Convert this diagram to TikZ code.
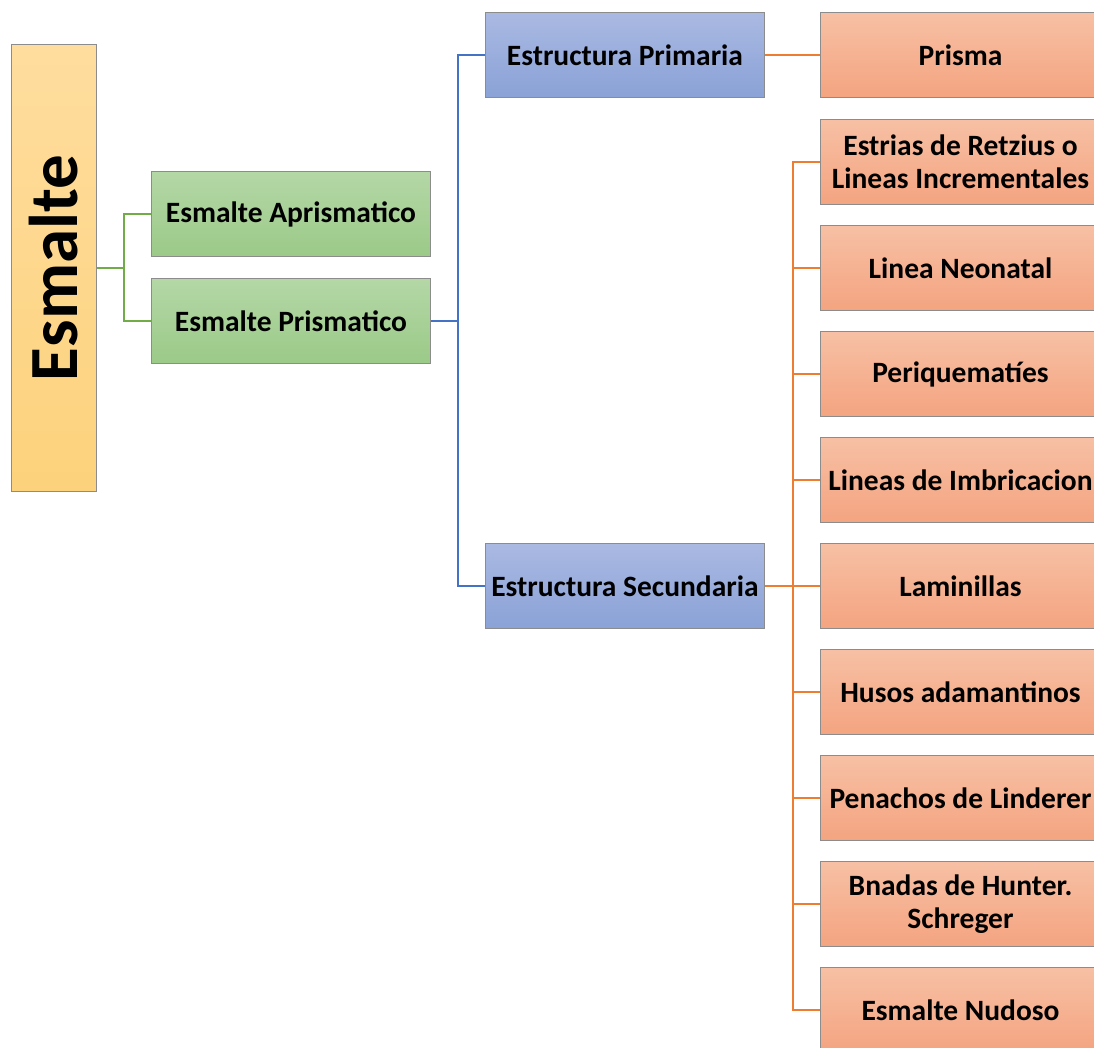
\documentclass[tikz,border=0pt]{standalone}
\usepackage{fontspec}
\setmainfont{Carlito}
\definecolor{yTop}{HTML}{FEDD9E}
\definecolor{yBot}{HTML}{FDD27C}
\definecolor{gTop}{HTML}{B4D7A6}
\definecolor{gBot}{HTML}{9BCA88}
\definecolor{bTop}{HTML}{AAB9E2}
\definecolor{bBot}{HTML}{8AA2D7}
\definecolor{oTop}{HTML}{F7C0A4}
\definecolor{oBot}{HTML}{F4A480}
\definecolor{bord}{HTML}{8C8C8C}
\definecolor{gLine}{HTML}{70AD47}
\definecolor{bLine}{HTML}{4472C4}
\definecolor{oLine}{HTML}{ED7D31}
\tikzset{
  base/.style={draw=bord, line width=1pt, anchor=north west, inner sep=0pt,
    font=\fontsize{29.5}{33}\selectfont\bfseries, align=center},
  ybox/.style={base, top color=yTop, bottom color=yBot, minimum width=85pt, minimum height=447pt},
  gbox/.style={base, top color=gTop, bottom color=gBot, minimum width=279pt, minimum height=85pt},
  bbox/.style={base, top color=bTop, bottom color=bBot, minimum width=279pt, minimum height=85pt},
  obox/.style={base, top color=oTop, bottom color=oBot, minimum width=290pt, minimum height=85pt},
  gcon/.style={draw=gLine, line width=2.8pt},
  bcon/.style={draw=bLine, line width=2.8pt},
  ocon/.style={draw=oLine, line width=2.8pt},
}
\begin{document}
\begin{tikzpicture}[x=1pt, y=-1pt]
\useasboundingbox (0,0) rectangle (1094,1048);
\node[ybox] (esm) at (11,44) {};
\node[rotate=90, font=\fontsize{69}{70}\selectfont\bfseries] (esmt) at (esm.center) {Esmalte};
\node[gbox] (apr) at (151,171) {Esmalte Aprismatico};
\node[gbox] (pri) at (151,278) {Esmalte Prismatico};
\node[bbox] (ep) at (485,12) {Estructura Primaria};
\node[bbox] (es) at (485,543) {Estructura Secundaria};
\node[obox, minimum width=280pt] (o0) at (820,12) {Prisma};
\node[obox] (o1) at (820,119) {\hspace*{-10pt}Estrias de Retzius o\\\hspace*{-10pt}Lineas Incrementales};
\node[obox] (o2) at (820,225) {\hspace*{-10pt}Linea Neonatal};
\node[obox] (o3) at (820,331) {\hspace*{-10pt}Periquematíes};
\node[obox] (o4) at (820,437) {\hspace*{-10pt}Lineas de Imbricacion};
\node[obox] (o5) at (820,543) {\hspace*{-10pt}Laminillas};
\node[obox] (o6) at (820,649) {\hspace*{-10pt}Husos adamantinos};
\node[obox] (o7) at (820,755) {\hspace*{-10pt}Penachos de Linderer};
\node[obox] (o8) at (820,861) {\hspace*{-10pt}Bnadas de Hunter.\\\hspace*{-10pt}Schreger};
\node[obox] (o9) at (820,967) {\hspace*{-10pt}Esmalte Nudoso};
% green
\draw[gcon] (esm.east) -- ++(27,0) coordinate (gj);
\draw[gcon] (gj) |- (apr.west);
\draw[gcon] (gj) |- (pri.west);
% blue
\draw[bcon] (pri.east) -- ++(27,0) coordinate (bj);
\draw[bcon] (bj) |- (ep.west);
\draw[bcon] (bj) |- (es.west);
% orange
\draw[ocon] (ep.east) -- (o0.west);
\draw[ocon] (es.east) -- ++(28,0) coordinate (oj);
\foreach \k in {1,...,9} { \draw[ocon] (oj) |- (o\k.west); }
\end{tikzpicture}
\end{document}
